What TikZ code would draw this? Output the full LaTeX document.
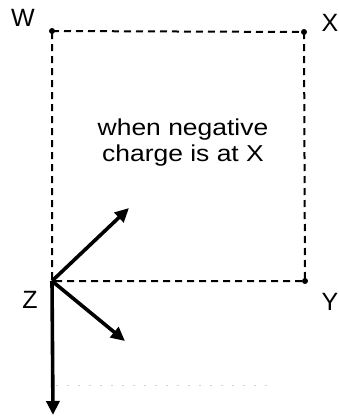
\documentclass[tikz,border=0pt]{standalone}
\usepackage{fontspec}
\setmainfont{Liberation Sans}
\usetikzlibrary{arrows.meta}
\begin{document}
\begin{tikzpicture}[x=1pt,y=-1pt,
  dashline/.style={line width=2pt,dash pattern=on 7pt off 5pt},
  corner/.style={circle,fill=black,inner sep=0pt,minimum size=6pt},
  lbl/.style={font=\fontsize{25}{27}\selectfont,inner sep=0pt},
  vec/.style={line width=3.6pt,-{Triangle[length=14pt,width=13pt]}}]
\useasboundingbox (0,0) rectangle (339,416);
\coordinate (W) at (52,31);
\coordinate (X) at (304,32);
\coordinate (Y) at (305,281);
\coordinate (Z) at (52,281);
\draw[dashline] (W) -- (X) -- (Y) -- (Z) -- cycle;
\node[corner] (Wd) at (W) {};
\node[corner] (Xd) at (X) {};
\node[corner] (Yd) at (Y) {};
\node[lbl] (Wl) at (23,18) {W};
\node[lbl] (Xl) at (330,23) {X};
\node[lbl] (Yl) at (330,302) {Y};
\node[lbl] (Zl) at (30,300) {Z};
\node[font=\fontsize{23}{26}\selectfont,align=center,inner sep=0pt] (txt) at (183,143)
  {\scalebox{1.15}[1]{when negative}\\ \scalebox{1.15}[1]{charge is at X}};
\coordinate (A1) at (129,208);
\coordinate (A2) at (125,341);
\coordinate (A3) at (53,415);
\draw[vec] (Z) -- (A1);
\draw[vec] (Z) -- (A2);
\draw[vec] (Z) -- (A3);
\coordinate (F1) at (56,385);
\coordinate (F2) at (270,385);
\draw[gray!35,line width=0.6pt,dash pattern=on 2pt off 9pt] (F1) -- (F2);
\end{tikzpicture}
\end{document}
